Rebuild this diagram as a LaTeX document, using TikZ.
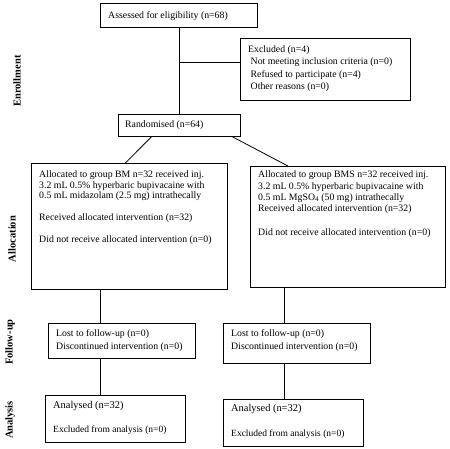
\documentclass[tikz,border=0pt]{standalone}
\usepackage{fontspec}
\setmainfont{Liberation Serif}
\begin{document}
\begin{tikzpicture}[x=1pt,y=-1pt,
  box/.style={draw,line width=0.8pt,inner sep=0pt,anchor=north west},
  txt/.style={inner sep=0pt,anchor=north west,align=left,font=\fontsize{9.8}{12}\selectfont},
  side/.style={inner sep=0pt,rotate=90,font=\bfseries\fontsize{10.5}{12}\selectfont},
  conn/.style={line width=0.8pt}]
\useasboundingbox (0,0) rectangle (450,449);
% boxes
\node[box,minimum width=157pt,minimum height=24pt] (assess) at (100,3) {};
\node[box,minimum width=170pt,minimum height=62pt] (excl) at (240,38) {};
\node[box,minimum width=122pt,minimum height=22pt] (rand) at (118,114) {};
\node[box,minimum width=196pt,minimum height=126pt] (bm) at (31,163) {};
\node[box,minimum width=195pt,minimum height=121pt] (bms) at (250,166) {};
\node[box,minimum width=147pt,minimum height=35pt] (fl) at (48,323) {};
\node[box,minimum width=147pt,minimum height=40pt] (fr) at (223,323) {};
\node[box,minimum width=140pt,minimum height=47pt] (al) at (45,395) {};
\node[box,minimum width=140pt,minimum height=47pt] (ar) at (223,399) {};
% texts
\node[txt] (tassess) at (108,11) {Assessed for eligibility (n=68)};
\node[txt,font=\fontsize{9.8}{12.5}\selectfont] (texcl) at (248,45.5) {Excluded (n=4)\\\hspace{2.5pt}Not meeting inclusion criteria (n=0)\\\hspace{2.5pt}Refused to participate (n=4)\\\hspace{2.5pt}Other reasons (n=0)};
\node[txt] (trand) at (125,121) {Randomised (n=64)};
\node[txt,font=\fontsize{9.8}{10.5}\selectfont] (tbm) at (39,171) {Allocated to group BM n=32 received inj.\\3.2 mL 0.5\% hyperbaric bupivacaine with\\0.5 mL midazolam (2.5 mg) intrathecally\\[11pt]Received allocated intervention (n=32)\\[12pt]Did not receive allocated intervention (n=0)};
\node[txt,font=\fontsize{9.8}{11.2}\selectfont] (tbms) at (258,171) {Allocated to group BMS n=32 received inj.\\3.2 mL 0.5\% hyperbaric bupivacaine with\\0.5 mL MgSO\textsubscript{4} (50 mg) intrathecally\\Received allocated intervention (n=32)\\[13pt]Did not receive allocated intervention (n=0)};
\node[txt,font=\fontsize{9.8}{13}\selectfont] (tfl) at (56,329) {Lost to follow-up (n=0)\\Discontinued intervention (n=0)};
\node[txt,font=\fontsize{9.8}{13}\selectfont] (tfr) at (231,329) {Lost to follow-up (n=0)\\Discontinued intervention (n=0)};
\node[txt,font=\fontsize{10.4}{12}\selectfont] (tal) at (53,401) {Analysed (n=32)\\[12pt]{\fontsize{9.5}{12}\selectfont Excluded from analysis (n=0)}};
\node[txt,font=\fontsize{10.4}{12}\selectfont] (tar) at (231,404) {Analysed (n=32)\\[13pt]{\fontsize{9.5}{12}\selectfont Excluded from analysis (n=0)}};
% side labels
\node[side] (s1) at (17,81) {Enrollment};
\node[side] (s2) at (12,239) {Allocation};
\node[side] (s3) at (10,342) {Follow-up};
\node[side] (s4) at (10,420) {Analysis};
% connectors
\coordinate (j1) at (179,62);
\draw[conn] ([xshift=0.5pt]assess.south) -- (rand.north);
\draw[conn] (j1) -- (j1 -| excl.west);
\draw[conn] ([xshift=-28pt]rand.south) -- ([xshift=-4pt]bm.north);
\draw[conn] ([xshift=53pt]rand.south) -- ([xshift=-60pt]bms.north);
\draw[conn] ([xshift=-29pt]bm.south) -- ([xshift=-29pt]bm.south |- fl.north);
\draw[conn] ([xshift=-63.5pt]bms.south) -- ([xshift=-63.5pt]bms.south |- fr.north);
\draw[conn] ([xshift=-21.5pt]fl.south) -- ([xshift=-21.5pt]fl.south |- al.north);
\draw[conn] ([xshift=-12.5pt]fr.south) -- ([xshift=-12.5pt]fr.south |- ar.north);
\end{tikzpicture}
\end{document}
